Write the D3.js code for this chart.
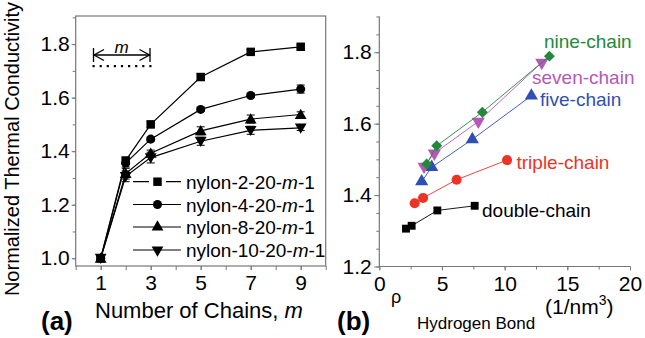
<!DOCTYPE html>
<html><head><meta charset="utf-8">
<script src="https://cdn.jsdelivr.net/npm/d3@7"></script>
<style>
body{margin:0;background:#fff;}
svg{display:block;font-family:"Liberation Sans",Arial,sans-serif;}
</style></head>
<body><svg id="c" width="645" height="338"></svg>
<script>
// ---------- Panel (a) data ----------
const chains = [1, 2, 3, 5, 7, 9];
const nylon2  = [1.000, 1.365, 1.500, 1.677, 1.771, 1.790];
const nylon4  = [1.000, 1.356, 1.445, 1.556, 1.608, 1.632];
const nylon8  = [1.000, 1.316, 1.392, 1.476, 1.520, 1.537];
const nylon10 = [1.000, 1.306, 1.376, 1.437, 1.478, 1.487];
const err2  = [0.010, 0.012, 0.012, 0.012, 0.008, 0.008];
const err4  = [0.010, 0.015, 0.008, 0.008, 0.008, 0.015];
const err8  = [0.010, 0.020, 0.012, 0.015, 0.015, 0.010];
const err10 = [0.010, 0.020, 0.020, 0.015, 0.015, 0.010];
const seriesA = ["nylon-2-20-", "nylon-4-20-", "nylon-8-20-", "nylon-10-20-"];
const ticksAx = [1, 3, 5, 7, 9];
const ticksAy = [1.0, 1.2, 1.4, 1.6, 1.8];

// ---------- Panel (b) data ----------
const dblX = [2.13, 2.58, 4.63, 7.61];
const dblY = [1.306, 1.314, 1.357, 1.370];
const triX = [2.82, 3.49, 6.17, 10.19];
const triY = [1.377, 1.392, 1.443, 1.498];
const fivX = [3.38, 4.18, 7.42, 12.13];
const fivY = [1.438, 1.478, 1.556, 1.678];
const sevX = [3.57, 4.39, 7.90, 12.96];
const sevY = [1.480, 1.517, 1.606, 1.771];
const ninX = [3.78, 4.58, 8.22, 13.57];
const ninY = [1.487, 1.538, 1.632, 1.789];
const seriesB = ["double-chain", "triple-chain", "five-chain", "seven-chain", "nine-chain"];
const ticksBx = [0, 5, 10, 15, 20];
const ticksBy = [1.2, 1.4, 1.6, 1.8];

const svg = d3.select("#c");
const axisCol = "#777";
const font = 21;

function styleAxis(g){
  g.select(".domain").remove();
  g.selectAll(".tick line").attr("stroke", axisCol).attr("stroke-width", 1);
  g.selectAll(".tick text").attr("fill", "#000").attr("font-size", font)
    .attr("font-family", '"Liberation Sans",Arial,sans-serif');
}

// ===================== Panel (a) =====================
const xa = d3.scaleLinear().domain([0, 10]).range([75.7, 325.7]);
const ya = d3.scaleLinear().domain([0.971, 1.905]).range([266, 16]);

// minor ticks
svg.append("g").attr("transform", `translate(0,${ya.range()[0]})`)
  .call(d3.axisBottom(xa).tickValues(d3.range(0, 10.01, 1)).tickSize(4).tickFormat(""))
  .call(styleAxis);
svg.append("g").attr("transform", `translate(${xa.range()[0]},0)`)
  .call(d3.axisLeft(ya).tickValues(d3.range(1.0, 1.91, 0.1)).tickSize(3).tickFormat(""))
  .call(styleAxis);
// major ticks
svg.append("g").attr("transform", `translate(0,${ya.range()[0]})`)
  .call(d3.axisBottom(xa).tickValues(ticksAx).tickSize(4).tickPadding(5.5).tickFormat(d3.format("d")))
  .call(styleAxis);
svg.append("g").attr("transform", `translate(${xa.range()[0]},0)`)
  .call(d3.axisLeft(ya).tickValues(ticksAy).tickSize(4).tickPadding(2).tickFormat(d3.format(".1f")))
  .call(styleAxis);
// frame
svg.append("rect").attr("x", xa.range()[0]).attr("y", ya.range()[1])
  .attr("width", xa.range()[1] - xa.range()[0]).attr("height", ya.range()[0] - ya.range()[1])
  .attr("fill", "none").attr("stroke", axisCol).attr("stroke-width", 1.2);

const symTypes = [d3.symbolSquare, d3.symbolCircle, d3.symbolTriangle, d3.symbolTriangle];
const symSizes = [72, 64, 60, 60];
function symPath(i){ return d3.symbol().type(symTypes[i]).size(symSizes[i])(); }
function symTransform(i, x, y){ return `translate(${x},${y})` + (i === 3 ? " rotate(180)" : ""); }

const dataA = [nylon2, nylon4, nylon8, nylon10];
const errA = [err2, err4, err8, err10];
const lineA = d3.line().x((d, j) => xa(chains[j])).y(d => ya(d));
dataA.forEach((vals, i) => {
  const g = svg.append("g");
  g.append("path").attr("d", lineA(vals)).attr("fill", "none").attr("stroke", "#000").attr("stroke-width", 1.2);
  vals.forEach((v, j) => {
    const x = xa(chains[j]), e = errA[i][j];
    g.append("path").attr("d", `M${x},${ya(v - e)}V${ya(v + e)}M${x - 4},${ya(v - e)}H${x + 4}M${x - 4},${ya(v + e)}H${x + 4}`)
      .attr("stroke", "#000").attr("stroke-width", 1);
    g.append("path").attr("d", symPath(i)).attr("transform", symTransform(i, x, ya(v) + (i === 2 ? 1 : i === 3 ? -1 : 0))).attr("fill", "#000");
  });
});

// legend
const legY = [181.7, 204.5, 227, 250];
seriesA.forEach((name, i) => {
  const y = legY[i];
  const g = svg.append("g");
  if (i === 0) {
    g.append("path").attr("d", `M133,${y}H149M166,${y}H181`).attr("stroke", "#000").attr("stroke-width", 1.2);
  } else {
    g.append("line").attr("x1", 133).attr("x2", 181).attr("y1", y).attr("y2", y).attr("stroke", "#000").attr("stroke-width", 1.2);
  }
  g.append("path").attr("d", symPath(i)).attr("transform", symTransform(i, 157.5, y)).attr("fill", "#000");
  const t = g.append("text").attr("x", 186).attr("y", y + 7).attr("font-size", 19).attr("fill", "#000");
  t.append("tspan").text(name);
  t.append("tspan").attr("font-style", "italic").text("m");
  t.append("tspan").text("-1");
});

// "m" span diagram
const md = svg.append("g").attr("stroke", "#000").attr("fill", "none");
md.append("path").attr("d", "M93.5,48V62M150,48V62M94,55H149.5").attr("stroke-width", 1.3);
md.append("path").attr("d", "M104,49.5L94,55L104,60.5M139.5,49.5L149.5,55L139.5,60.5").attr("stroke-width", 1.3);
svg.append("g").selectAll("rect").data(d3.range(9)).join("rect")
  .attr("x", d => 92.5 + d * 7.1).attr("y", 65).attr("width", 2.2).attr("height", 2.2).attr("fill", "#000");
svg.append("text").attr("x", 121.5).attr("y", 53).attr("text-anchor", "middle").attr("font-size", 17)
  .attr("font-style", "italic").text("m");

// axis labels (a)
svg.append("text").attr("transform", "translate(19,149) rotate(-90)").attr("text-anchor", "middle")
  .attr("font-size", 20).text("Normalized Thermal Conductivity");
const xl = svg.append("text").attr("x", 95).attr("y", 318).attr("font-size", 22);
xl.append("tspan").text("Number of Chains, ");
xl.append("tspan").attr("font-style", "italic").text("m");
svg.append("text").attr("x", 41).attr("y", 330).attr("font-size", 26).attr("font-weight", "bold").text("(a)");

// ===================== Panel (b) =====================
const xb = d3.scaleLinear().domain([0, 20]).range([379.3, 630]);
const yb = d3.scaleLinear().domain([1.2, 1.9]).range([266.5, 16.5]);

svg.append("g").attr("transform", `translate(0,${yb.range()[0]})`)
  .call(d3.axisBottom(xb).tickValues(d3.range(0, 20.01, 2.5)).tickSize(3).tickFormat(""))
  .call(styleAxis);
svg.append("g").attr("transform", `translate(${xb.range()[0]},0)`)
  .call(d3.axisLeft(yb).tickValues(d3.range(1.2, 1.901, 0.05)).tickSize(3).tickFormat(""))
  .call(styleAxis);
svg.append("g").attr("transform", `translate(0,${yb.range()[0]})`)
  .call(d3.axisBottom(xb).tickValues(ticksBx).tickSize(4).tickPadding(5.5).tickFormat(d3.format("d")))
  .call(styleAxis);
svg.append("g").attr("transform", `translate(${xb.range()[0]},0)`)
  .call(d3.axisLeft(yb).tickValues(ticksBy).tickSize(5).tickPadding(2.5).tickFormat(d3.format(".1f")))
  .call(styleAxis);
svg.append("path").attr("d", `M${xb.range()[0]},${yb.range()[1]}V${yb.range()[0]}H${xb.range()[1]}`)
  .attr("fill", "none").attr("stroke", axisCol).attr("stroke-width", 1.2);

const colB = ["#000000", "#ec3326", "#2f4fb5", "#b558b8", "#22883c"];
const xsB = [dblX, triX, fivX, sevX, ninX];
const ysB = [dblY, triY, fivY, sevY, ninY];
const symB = [d3.symbolSquare, d3.symbolCircle, d3.symbolTriangle, d3.symbolTriangle, d3.symbolSquare];
const sizeB = [62, 80, 75, 75, 60];
xsB.forEach((xs, i) => {
  const pts = xs.map((x, j) => [xb(x), yb(ysB[i][j])]);
  svg.append("path").attr("d", d3.line()(pts)).attr("fill", "none").attr("stroke", colB[i]).attr("stroke-width", 0.9);
  pts.forEach(p => {
    let tr = `translate(${p[0]},${p[1]})`;
    if (i === 3) tr += " rotate(180)";
    if (i === 4) tr += " rotate(45)";
    svg.append("path").attr("d", d3.symbol().type(symB[i]).size(sizeB[i])())
      .attr("transform", tr).attr("fill", colB[i]);
  });
});
// series labels
const labPos = [[482, 217], [516.5, 169], [540, 106], [532, 84], [544, 48]];
seriesB.forEach((name, i) => {
  svg.append("text").attr("x", labPos[i][0]).attr("y", labPos[i][1]).attr("font-size", 19)
    .attr("fill", colB[i]).text(name);
});

// axis labels (b)
svg.append("text").attr("x", 337).attr("y", 329.5).attr("font-size", 26).attr("font-weight", "bold").text("(b)");
svg.append("text").attr("x", 391).attr("y", 303).attr("font-size", 18).text("ρ");
svg.append("text").attr("x", 417).attr("y", 329).attr("font-size", 17).text("Hydrogen Bond");
const ul = svg.append("text").attr("x", 545).attr("y", 314).attr("font-size", 21);
ul.append("tspan").text("(1/nm");
ul.append("tspan").attr("font-size", 14).attr("dy", -9).text("3");
ul.append("tspan").attr("dy", 9).text(")");
</script></body></html>
